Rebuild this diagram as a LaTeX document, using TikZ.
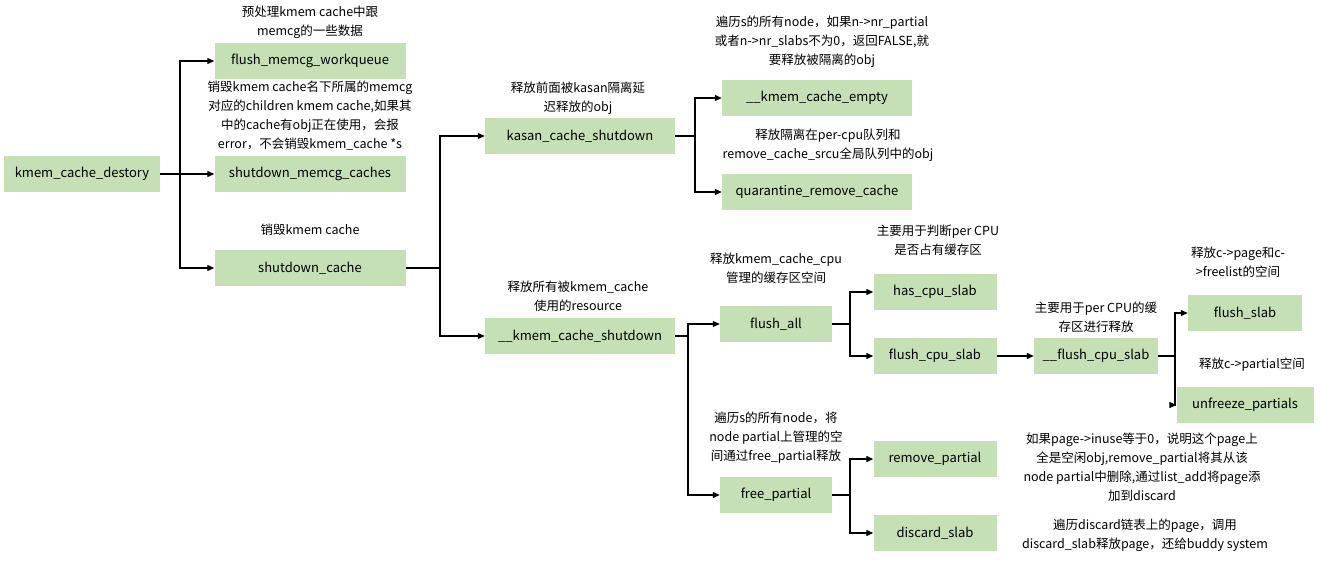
\documentclass[tikz,border=0pt]{standalone}
\usepackage{fontspec}
\setmainfont{Noto Sans CJK SC}
\usetikzlibrary{arrows.meta}
\definecolor{boxg}{HTML}{C5E0B4}
\begin{document}
\begin{tikzpicture}[x=1pt,y=-1pt,
 box/.style={fill=boxg,draw=none,minimum height=36pt,inner sep=0pt,font=\fontsize{13}{15}\selectfont},
 lab/.style={align=center,font=\fontsize{12.5}{19}\selectfont,inner sep=0pt},
 ln/.style={line width=1.2pt},
 ar/.style={line width=1.2pt,-{Triangle[length=7pt,width=6pt]}}]
\useasboundingbox (0,0) rectangle (1320,560);
\node[box,minimum width=156pt] (a) at (82,174) {kmem\_cache\_destory};
\node[box,minimum width=191pt] (b1) at (310,61) {flush\_memcg\_workqueue};
\node[box,minimum width=191pt] (b2) at (310,174) {shutdown\_memcg\_caches};
\node[box,minimum width=191pt] (b3) at (310,268) {shutdown\_cache};
\node[box,minimum width=190pt] (c1) at (580,136) {kasan\_cache\_shutdown};
\node[box,minimum width=190pt] (c2) at (580,336) {\_\_kmem\_cache\_shutdown};
\node[box,minimum width=190pt] (d1) at (817,98) {\_\_kmem\_cache\_empty};
\node[box,minimum width=190pt] (d2) at (817,192) {quarantine\_remove\_cache};
\node[box,minimum width=112pt] (e1) at (776,324) {flush\_all};
\node[box,minimum width=112pt] (e2) at (776,495) {free\_partial};
\node[box,minimum width=123pt] (f1) at (935,292) {has\_cpu\_slab};
\node[box,minimum width=123pt] (f2) at (935,356) {flush\_cpu\_slab};
\node[box,minimum width=123pt] (f3) at (935,459) {remove\_partial};
\node[box,minimum width=123pt] (f4) at (935,533) {discard\_slab};
\node[box,minimum width=124pt] (g) at (1096,356) {\_\_flush\_cpu\_slab};
\node[box,minimum width=114pt] (h1) at (1245,313) {flush\_slab};
\node[box,minimum width=137pt] (h2) at (1245,405) {unfreeze\_partials};

\coordinate (ja) at (180,174);
\draw[ln] (a.east) -- (ja);
\draw[ar] (ja) |- (b1.west);
\draw[ar] (ja) -- (b2.west);
\draw[ar] (ja) |- (b3.west);
\coordinate (jb) at (440,268);
\draw[ln] (b3.east) -- (jb);
\draw[ar] (jb) |- (c1.west);
\draw[ar] (jb) |- (c2.west);
\coordinate (jc) at (695,136);
\draw[ln] (c1.east) -- (jc);
\draw[ar] (jc) |- (d1.west);
\draw[ar] (jc) |- (d2.west);
\coordinate (jd) at (688,336);
\draw[ln] (c2.east) -- (jd);
\draw[ar] (jd) |- (e1.west);
\draw[ar] (jd) |- (e2.west);
\coordinate (je) at (850,324);
\draw[ln] (e1.east) -- (je);
\draw[ar] (je) |- (f1.west);
\draw[ar] (je) |- (f2.west);
\coordinate (jf) at (850,495);
\draw[ln] (e2.east) -- (jf);
\draw[ar] (jf) |- (f3.west);
\draw[ar] (jf) |- (f4.west);
\draw[ar] (f2.east) -- (g.west);
\coordinate (jg) at (1175,356);
\draw[ln] (g.east) -- (jg);
\draw[ar] (jg) |- (h1.west);
\draw[ar] (jg) |- (h2.west);

\node[lab] (t1) at (310,22) {预处理kmem cache中跟\\memcg的一些数据};
\node[lab] (t2) at (310,116) {销毁kmem cache名下所属的memcg\\对应的children kmem cache,如果其\\中的cache有obj正在使用，会报\\error，不会销毁kmem\_cache *s};
\node[lab] (t3) at (310,230) {销毁kmem cache};
\node[lab] (t4) at (578,98) {释放前面被kasan隔离延\\迟释放的obj};
\node[lab] (t5) at (578,296) {释放所有被kmem\_cache\\使用的resource};
\node[lab] (t6) at (822,42) {遍历s的所有node，如果n->nr\_partial\\或者n->nr\_slabs不为0，返回FALSE,就\\要释放被隔离的obj};
\node[lab] (t7) at (828,145) {释放隔离在per-cpu队列和\\remove\_cache\_srcu全局队列中的obj};
\node[lab] (t8) at (776,268) {释放kmem\_cache\_cpu\\管理的缓存区空间};
\node[lab] (t9) at (938,240) {主要用于判断per CPU\\是否占有缓存区};
\node[lab] (t10) at (1096,317) {主要用于per CPU的缓\\存区进行释放};
\node[lab] (t11) at (1238,262) {释放c->page和c-\\>freelist的空间};
\node[lab] (t12) at (1252,365) {释放c->partial空间};
\node[lab] (t13) at (776,438) {遍历s的所有node，将\\node partial上管理的空\\间通过free\_partial释放};
\node[lab] (t14) at (1142,467) {如果page->inuse等于0，说明这个page上\\全是空闲obj,remove\_partial将其从该\\node partial中删除,通过list\_add将page添\\加到discard};
\node[lab] (t15) at (1145,535) {遍历discard链表上的page，调用\\discard\_slab释放page，还给buddy system};
\end{tikzpicture}
\end{document}
